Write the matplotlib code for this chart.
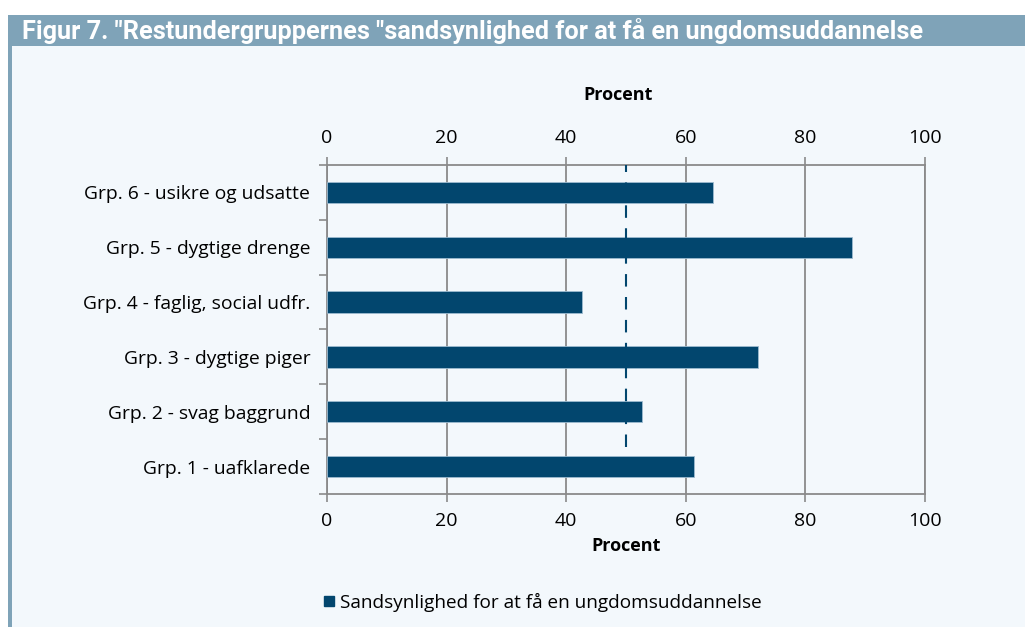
import matplotlib.pyplot as plt
from matplotlib.patches import Rectangle
from matplotlib.lines import Line2D

plt.rcParams['font.family'] = ['Open Sans', 'DejaVu Sans']

# --- data ---
groups = [
    "Grp. 1 - uafklarede",
    "Grp. 2 - svag baggrund",
    "Grp. 3 - dygtige piger",
    "Grp. 4 - faglig, social udfr.",
    "Grp. 5 - dygtige drenge",
    "Grp. 6 - usikre og udsatte",
]
values = [61.3, 52.7, 72.0, 42.6, 87.8, 64.5]
ref_level = 50
title = 'Figur 7. "Restundergruppernes "sandsynlighed for at få en ungdomsuddannelse'
legend_label = "Sandsynlighed for at få en ungdomsuddannelse"
xticks = [0, 20, 40, 60, 80, 100]

bar_col = "#02466e"
grid_col = "#8a8a8a"
bg_col = "#f3f8fc"
head_col = "#7fa3b8"

fig = plt.figure(figsize=(10.25, 6.27), dpi=100)
fig.patch.set_facecolor("white")

# background panel, left strip and title bar
fig.patches.append(Rectangle((8 / 1025, 0), 1, 1 - 15 / 627, transform=fig.transFigure,
                             facecolor=bg_col, edgecolor="none", zorder=-3))
fig.patches.append(Rectangle((8 / 1025, 0), 4 / 1025, 1 - 15 / 627, transform=fig.transFigure,
                             facecolor=head_col, edgecolor="none", zorder=-2))
fig.patches.append(Rectangle((8 / 1025, 1 - 46 / 627), 1, 31 / 627, transform=fig.transFigure,
                             facecolor=head_col, edgecolor="none", zorder=-2))
fig.text(22 / 1025, 1 - 31 / 627, title, color="white", fontsize=18.2, fontweight="bold",
         va="center", ha="left", family=["Roboto", "DejaVu Sans"])

ax = fig.add_axes([327 / 1025, 133 / 627, 598 / 1025, 329 / 627])
ax.set_facecolor(bg_col)

ypos = list(range(len(groups)))
ax.barh(ypos, values, height=0.39, color=bar_col, edgecolor="#9dbbd0", linewidth=0.6,
        zorder=3, label=legend_label)
ax.plot([ref_level, ref_level], [0.36, 5.5], color=bar_col, linestyle=(0, (6, 5)),
        linewidth=1.5, zorder=4)

ax.set_xlim(0, 100)
ax.set_ylim(-0.5, 5.5)
ax.set_xticks(xticks)
ax.set_yticks([y - 0.5 for y in range(len(groups) + 1)])
ax.set_yticklabels([])
ax.set_yticks(ypos, minor=True)
ax.set_yticklabels(groups, minor=True, fontsize=13.9)
ax.tick_params(axis="y", which="minor", length=0, pad=12)
ax.tick_params(axis="y", which="major", length=6, color=grid_col, width=1.2)
ax.tick_params(axis="x", length=6, color=grid_col, width=1.2, labelsize=14,
               top=True, labeltop=True, pad=7)
ax.grid(axis="x", color=grid_col, linewidth=1.3, zorder=0)
for s in ax.spines.values():
    s.set_color(grid_col)
    s.set_linewidth(1.3)

ax.set_xlabel("Procent", fontsize=13, fontweight="bold", labelpad=5)
fig.text(618 / 1025, 1 - 95 / 627, "Procent", fontsize=13, fontweight="bold",
         ha="center", va="center")

handle = Line2D([], [], marker="s", linestyle="none", markersize=7, color=bar_col)
fig.legend([handle], [legend_label], loc="center left", bbox_to_anchor=(310 / 1025, 1 - 602 / 627),
           frameon=False, fontsize=13.7, handletextpad=0.0, handlelength=1.2, borderaxespad=0)

fig.savefig("out.png", dpi=100, facecolor=fig.get_facecolor())
